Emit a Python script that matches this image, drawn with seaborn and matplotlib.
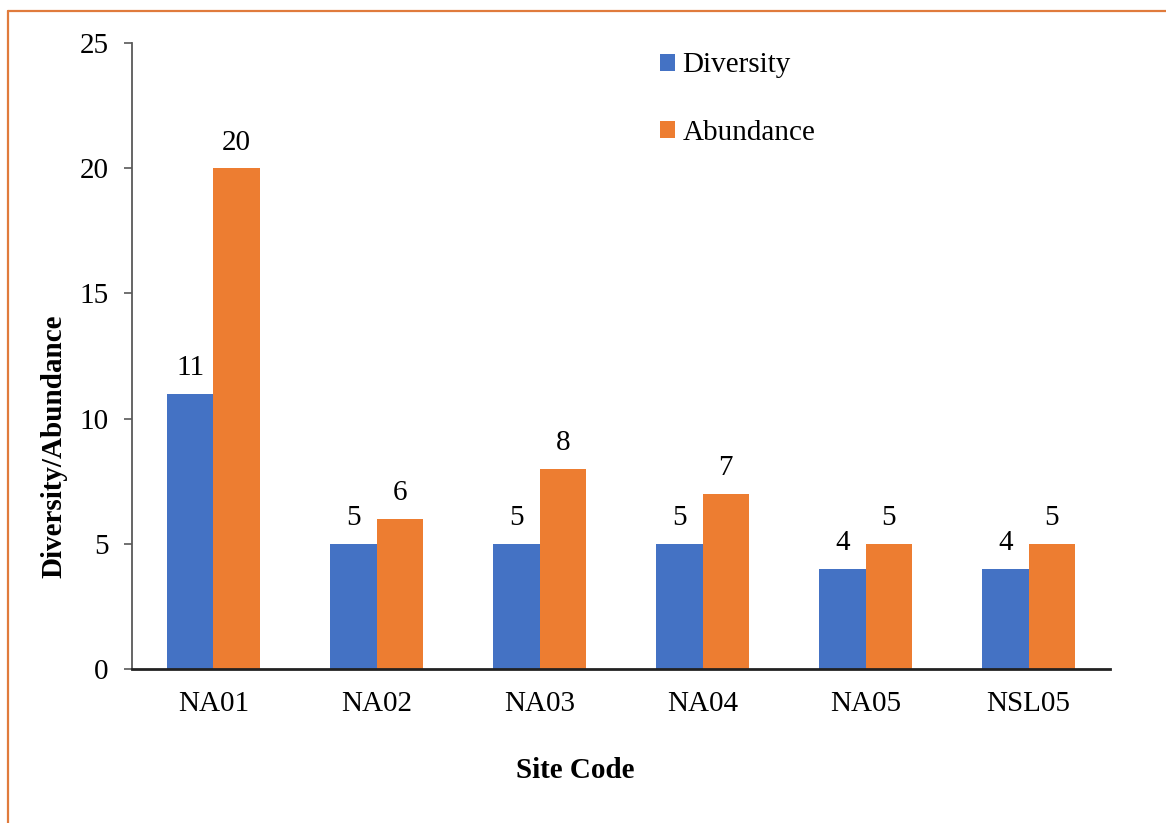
import matplotlib
matplotlib.use("Agg")
import matplotlib.pyplot as plt
import matplotlib.lines as mlines
import matplotlib.patches as mpatches
import pandas as pd
import seaborn as sns

# Site data
sites = ["NA01", "NA02", "NA03", "NA04", "NA05", "NSL05"]
diversity = [11, 5, 5, 5, 4, 4]
abundance = [20, 6, 8, 7, 5, 5]
series_names = ["Diversity", "Abundance"]
y_ticks = [0, 5, 10, 15, 20, 25]

colors = {"Diversity": "#4472C4", "Abundance": "#ED7D31"}

df = pd.DataFrame({
    "Site": sites * 2,
    "Series": [series_names[0]] * len(sites) + [series_names[1]] * len(sites),
    "Value": diversity + abundance,
})

sns.set_style("white")
plt.rcParams["font.family"] = ["Liberation Serif", "DejaVu Serif"]
plt.rcParams["text.color"] = "black"

FS = 21

fig = plt.figure(figsize=(11.66, 8.23), dpi=100)
ax = fig.add_axes([0.1132, 0.1871, 0.8388, 0.7607])

sns.barplot(data=df, x="Site", y="Value", hue="Series", order=sites,
            hue_order=series_names, palette=colors, width=0.57,
            linewidth=0, saturation=1, legend=False, errorbar=None, ax=ax)

for cont in ax.containers:
    ax.bar_label(cont, fmt="%g", padding=9, fontsize=FS, color="black")

ax.set_ylim(0, 25)
ax.set_xlim(-0.5, len(sites) - 0.5)
ax.set_yticks(y_ticks)
ax.tick_params(axis="y", labelsize=FS, length=6, width=1.2, color="#595959",
               pad=11, left=True, direction="out", labelcolor="black")
ax.tick_params(axis="x", labelsize=FS, length=0, pad=16, labelcolor="black")

for side in ["top", "right"]:
    ax.spines[side].set_visible(False)
ax.spines["left"].set_color("#595959")
ax.spines["left"].set_linewidth(1.3)
ax.spines["bottom"].set_color("#222222")
ax.spines["bottom"].set_linewidth(2.0)

ax.set_ylabel("Diversity/Abundance", fontsize=FS, fontweight="bold", color="black")
ax.set_xlabel("Site Code", fontsize=FS, fontweight="bold", color="black")
ax.yaxis.set_label_coords(-0.066, 0.356)
ax.xaxis.set_label_coords(0.453, -0.141)

handles = [mpatches.Patch(facecolor=colors[s], edgecolor="none", label=s)
           for s in series_names]
leg = ax.legend(handles=handles, loc="upper left", bbox_to_anchor=(0.54, 0.985),
                frameon=False, fontsize=FS, handlelength=0.52, handleheight=0.52,
                handletextpad=0.25, labelspacing=1.42, borderpad=0,
                borderaxespad=0)
for t in leg.get_texts():
    t.set_color("black")

# Orange frame along top and left edges
border = "#E07B3C"
fig.add_artist(mlines.Line2D([0.0069, 1.0], [0.9866, 0.9866],
                             transform=fig.transFigure, color=border, lw=1.6))
fig.add_artist(mlines.Line2D([0.0069, 0.0069], [0.0, 0.9866],
                             transform=fig.transFigure, color=border, lw=1.6))

fig.savefig("out.png", dpi=100)
